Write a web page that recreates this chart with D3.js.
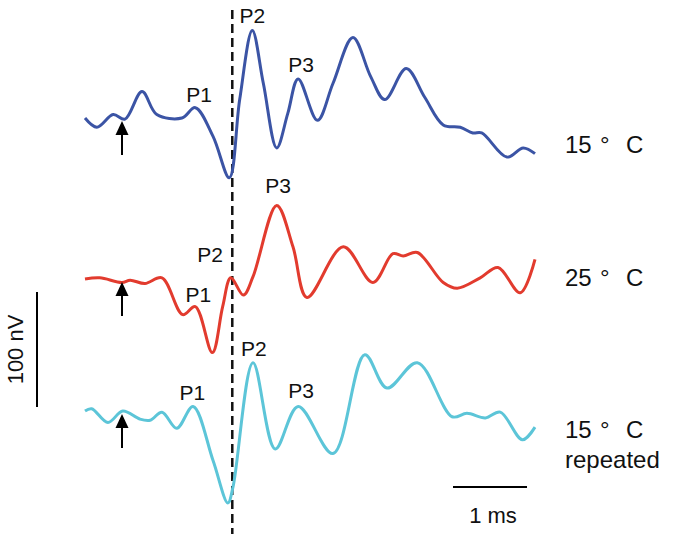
<!DOCTYPE html>
<html>
<head>
<meta charset="utf-8">
<script src="https://cdn.jsdelivr.net/npm/d3@7"></script>
<style>
  body { margin: 0; background: #fff; }
  svg { font-family: "Liberation Sans", Arial, sans-serif; }
</style>
</head>
<body>
<div id="chart"></div>
<script>
/* Evoked potential traces at two temperatures (time in ms, amplitude in nV) */

// 15 °C
const blueT = [0, 0.16, 0.38, 0.54, 0.77, 0.97, 1.31, 1.49, 1.73, 1.95, 2.09, 2.26, 2.41, 2.59, 2.74, 2.88, 3.14, 3.35, 3.62, 3.86, 4.05, 4.34, 4.59, 4.84, 5.07, 5.24, 5.36, 5.70, 5.92, 6.08];
const blueV = [0, -8, 3, -1, 23, 3, 0, 9, -16, -52, 16, 76, 30, -26, 4, 34, -2, 30, 70, 36, 16, 43, 18, -6, -8, -13, -13, -34, -26, -31];

// 25 °C
const redT = [0, 0.20, 0.50, 0.61, 0.81, 1.04, 1.32, 1.49, 1.72, 1.86, 1.97, 2.14, 2.27, 2.59, 2.81, 3.00, 3.49, 3.89, 4.16, 4.30, 4.49, 4.84, 5.03, 5.34, 5.58, 5.88, 6.08];
const redV = [0, 1, -3, -1, -4, 1, -31, -24, -64, -24, 1, -14, 2, 64, 28, -16, 28, -3, 22, 20, 23, -3, -8, 1, 10, -12, 17];

// 15 °C repeated
const cyanT = [0, 0.09, 0.31, 0.51, 0.74, 0.88, 1.04, 1.24, 1.46, 1.73, 1.93, 2.00, 2.27, 2.57, 2.88, 3.35, 3.78, 4.08, 4.49, 4.96, 5.16, 5.41, 5.61, 5.91, 6.08];
const cyanV = [0, 2, -10, 0, -7, -8, -1, -15, 4, -43, -80, -66, 42, -33, 4, -37, 49, 20, 42, -5, -2, -6, -1, -25, -14];

const traceTemps = ["15", "25", "15"];
const traceColors = ["#3b54a5", "#e23b2e", "#5cc5d8"];

// peak labels: [trace, label, time ms, amplitude nV]
const peakLabels = [
  [0, "P1", 1.54, 14], [0, "P2", 2.26, 83], [0, "P3", 2.92, 40],
  [1, "P1", 1.53, -20], [1, "P2", 1.69, 15], [1, "P3", 2.61, 75],
  [2, "P1", 1.45, 10], [2, "P2", 2.28, 48], [2, "P3", 2.92, 11]
];

const stimulusTime = 0.5;   // arrows
const markerTime = 1.99;    // dashed line
const scaleMs = 1, scaleNv = 100;

const width = 676, height = 534;
const baselines = [118, 279, 411];

const svg = d3.select("#chart").append("svg")
    .attr("width", width)
    .attr("height", height);

const x = d3.scaleLinear().domain([0, 6.08]).range([85, 535]);
const y = d3.scaleLinear().domain([0, 100]).range([0, -115]); // offset by baseline

const line = d3.line()
    .x(d => x(d[0]))
    .y(d => y(d[1]))
    .curve(d3.curveCatmullRom.alpha(0.5));

const traces = [
  d3.zip(blueT, blueV),
  d3.zip(redT, redV),
  d3.zip(cyanT, cyanV)
];

// dashed marker line
svg.append("line")
    .attr("x1", x(markerTime)).attr("x2", x(markerTime))
    .attr("y1", 10).attr("y2", height)
    .attr("stroke", "#111")
    .attr("stroke-width", 2.5)
    .attr("stroke-dasharray", "9,5");

let g = svg.selectAll(".trace")
    .data(traces)
    .join("g")
    .attr("class", "trace")
    .attr("transform", (d, i) => `translate(0,${baselines[i]})`);

g.append("path")
    .attr("d", d => line(d))
    .attr("fill", "none")
    .attr("stroke", (d, i) => traceColors[i])
    .attr("stroke-width", 3)
    .attr("stroke-linejoin", "round");

// stimulus arrows
g.append("line")
    .attr("x1", x(stimulusTime)).attr("x2", x(stimulusTime))
    .attr("y1", 14).attr("y2", 37)
    .attr("stroke", "#000").attr("stroke-width", 2);

g.append("path")
    .attr("d", `M${x(stimulusTime)},3 L${x(stimulusTime) - 6.5},17 L${x(stimulusTime) + 6.5},17 Z`)
    .attr("fill", "#000");

// peak labels
svg.selectAll(".peak")
    .data(peakLabels)
    .join("text")
    .attr("class", "peak")
    .attr("x", d => x(d[2]))
    .attr("y", d => baselines[d[0]] + y(d[3]))
    .attr("text-anchor", "middle")
    .attr("font-size", 21)
    .attr("fill", "#111")
    .text(d => d[1]);

// trace names on the right
const nameOffsets = [35, 7, 27];
let names = svg.selectAll(".name")
    .data(traceTemps)
    .join("text")
    .attr("class", "name")
    .attr("y", (d, i) => baselines[i] + nameOffsets[i])
    .attr("font-size", 24)
    .attr("fill", "#111");

names.append("tspan").attr("x", 565).text(d => d);
names.append("tspan").attr("x", 600).text("°");
names.append("tspan").attr("x", 626).text("C");

svg.append("text")
    .attr("x", 565)
    .attr("y", baselines[2] + 57)
    .attr("font-size", 24)
    .attr("fill", "#111")
    .text("repeated");

// scale bars
const vb = 292;
svg.append("line")
    .attr("x1", 37).attr("x2", 37)
    .attr("y1", vb).attr("y2", vb - y(scaleNv))
    .attr("stroke", "#000").attr("stroke-width", 2);

svg.append("text")
    .attr("transform", `translate(23,${vb - y(scaleNv) / 2}) rotate(-90)`)
    .attr("text-anchor", "middle")
    .attr("font-size", 22)
    .attr("fill", "#111")
    .text("100 nV");

const hbx = 453, hby = 487;
svg.append("line")
    .attr("x1", hbx).attr("x2", hbx + x(scaleMs) - x(0))
    .attr("y1", hby).attr("y2", hby)
    .attr("stroke", "#000").attr("stroke-width", 2);

svg.append("text")
    .attr("x", hbx + (x(scaleMs) - x(0)) / 2 + 3)
    .attr("y", 523)
    .attr("text-anchor", "middle")
    .attr("font-size", 22)
    .attr("fill", "#111")
    .text("1 ms");
</script>
</body>
</html>
